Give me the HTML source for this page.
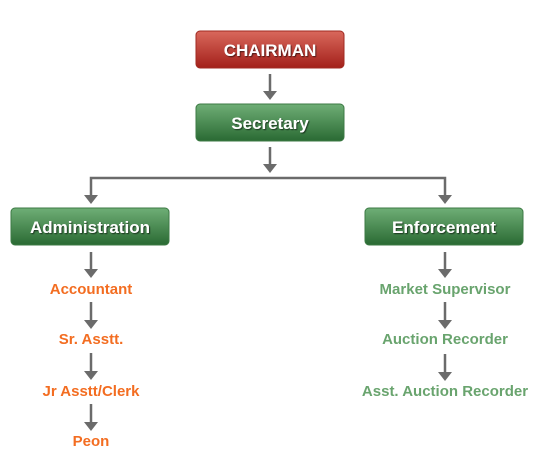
<!DOCTYPE html>
<html><head><style>
html,body{margin:0;padding:0;background:#fff;}
svg{display:block;font-family:"Liberation Sans",sans-serif;font-weight:bold;}
</style></head><body>
<svg width="558" height="476" viewBox="0 0 558 476">
<defs>
<linearGradient id="r" x1="0" y1="0" x2="0" y2="1"><stop offset="0" stop-color="#d9685c"/><stop offset="1" stop-color="#a3201a"/></linearGradient>
<linearGradient id="g" x1="0" y1="0" x2="0" y2="1"><stop offset="0" stop-color="#6fae76"/><stop offset="1" stop-color="#2a6a33"/></linearGradient>
<filter id="s"><feDropShadow dx="1" dy="1" stdDeviation="0.6" flood-color="#000" flood-opacity="0.6"/></filter>
</defs>
<g stroke="#6b6b6b" stroke-width="2.5" fill="none">
<line x1="270" y1="74" x2="270" y2="92"/>
<line x1="270" y1="147" x2="270" y2="165"/>
<polyline points="91,196 91,178 445,178 445,196"/>
<line x1="91" y1="252" x2="91" y2="270"/>
<line x1="91" y1="302" x2="91" y2="321"/>
<line x1="91" y1="353" x2="91" y2="372"/>
<line x1="91" y1="404" x2="91" y2="423"/>
<line x1="445" y1="252" x2="445" y2="270"/>
<line x1="445" y1="302" x2="445" y2="321"/>
<line x1="445" y1="354" x2="445" y2="373"/>
</g>
<g fill="#6b6b6b">
<path d="M263,91 L277,91 L270,100 Z"/>
<path d="M263,164 L277,164 L270,173 Z"/>
<path d="M84,195 L98,195 L91,204 Z"/>
<path d="M438,195 L452,195 L445,204 Z"/>
<path d="M84,269 L98,269 L91,278 Z"/>
<path d="M84,320 L98,320 L91,329 Z"/>
<path d="M84,371 L98,371 L91,380 Z"/>
<path d="M84,422 L98,422 L91,431 Z"/>
<path d="M438,269 L452,269 L445,278 Z"/>
<path d="M438,320 L452,320 L445,329 Z"/>
<path d="M438,372 L452,372 L445,381 Z"/>
</g>
<rect x="196" y="31" width="148" height="37" rx="4" fill="url(#r)" stroke="#a02a22"/>
<rect x="196" y="104" width="148" height="37" rx="4" fill="url(#g)" stroke="#3c7a44"/>
<rect x="11" y="208" width="158" height="37" rx="4" fill="url(#g)" stroke="#3c7a44"/>
<rect x="365" y="208" width="158" height="37" rx="4" fill="url(#g)" stroke="#3c7a44"/>
<g fill="#fff" font-size="17" text-anchor="middle" filter="url(#s)">
<text x="270" y="56">CHAIRMAN</text>
<text x="270" y="129">Secretary</text>
<text x="90" y="233">Administration</text>
<text x="444" y="233">Enforcement</text>
</g>
<g fill="#f36d21" font-size="15" text-anchor="middle">
<text x="91" y="294">Accountant</text>
<text x="91" y="344">Sr. Asstt.</text>
<text x="91" y="396">Jr Asstt/Clerk</text>
<text x="91" y="446">Peon</text>
</g>
<g fill="#69a46e" font-size="15" text-anchor="middle">
<text x="445" y="294">Market Supervisor</text>
<text x="445" y="344">Auction Recorder</text>
<text x="445" y="396">Asst. Auction Recorder</text>
</g>
</svg>
</body></html>
